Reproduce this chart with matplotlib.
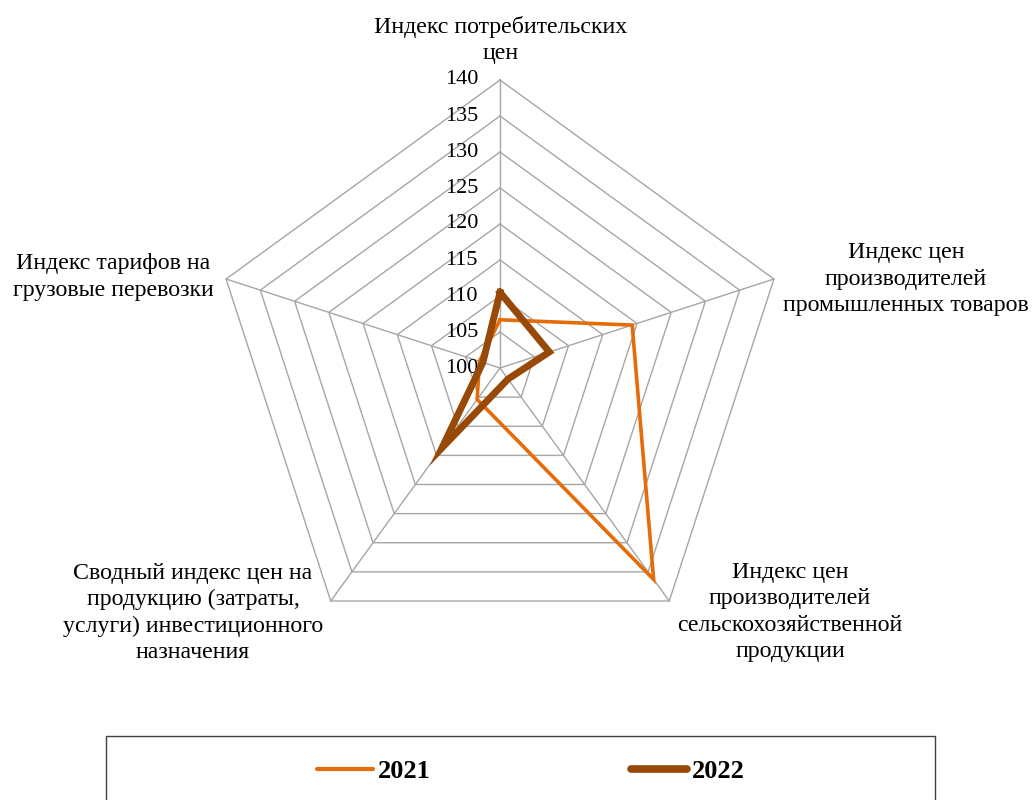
import numpy as np
import matplotlib
matplotlib.use("Agg")
import matplotlib.pyplot as plt
from matplotlib.lines import Line2D
from matplotlib.patches import Rectangle

plt.rcParams['font.family'] = ['Liberation Serif', 'DejaVu Serif']

# categories (clockwise from top)
categories = [
    "Индекс потребительских\nцен",
    "Индекс цен\nпроизводителей\nпромышленных товаров",
    "Индекс цен\nпроизводителей\nсельскохозяйственной\nпродукции",
    "Сводный индекс цен на\nпродукцию (затраты,\nуслуги) инвестиционного\nназначения",
    "Индекс тарифов на\nгрузовые перевозки",
]
values_2021 = [106.7, 119.3, 136.3, 105.4, 103.0]
values_2022 = [110.5, 107.2, 101.9, 113.7, 102.5]
ticks = [100, 105, 110, 115, 120, 125, 130, 135, 140]
r_min, r_max = 100, 140

c2021 = "#E46C0A"
c2022 = "#984807"
grid_c = "#A6A6A6"

W, H = 1036, 800
cx, cy = 500, 368          # centre of the web in pixels
ppu = 288 / (r_max - r_min)  # pixels per unit

fig = plt.figure(figsize=(W / 100, H / 100), dpi=100)
ax = fig.add_axes([0, 0, 1, 1])
ax.set_xlim(-cx / ppu, (W - cx) / ppu)
ax.set_ylim(-(H - cy) / ppu, cy / ppu)
ax.axis('off')

n = len(categories)
angles = np.deg2rad(90 - 72 * np.arange(n))


def to_xy(vals):
    r = np.asarray(vals, dtype=float) - r_min
    x = r * np.cos(angles)
    y = r * np.sin(angles)
    return np.append(x, x[0]), np.append(y, y[0])


# grid rings and spokes
for t in ticks[1:]:
    gx, gy = to_xy([t] * n)
    ax.plot(gx, gy, color=grid_c, lw=1.0, zorder=1)
for a in angles:
    ax.plot([0, (r_max - r_min) * np.cos(a)], [0, (r_max - r_min) * np.sin(a)],
            color=grid_c, lw=1.0, zorder=1)

# tick labels along the top spoke
for t in ticks:
    ax.text(-22 / ppu, t - r_min, str(t), ha='right', va='center',
            fontsize=16, color='black')

# series
x1, y1 = to_xy(values_2021)
ax.plot(x1, y1, color=c2021, lw=2.6, solid_joinstyle='miter', zorder=3)
x2, y2 = to_xy(values_2022)
ax.plot(x2, y2, color=c2022, lw=5.0, solid_joinstyle='miter', zorder=4)

# category labels (pixel positions of label centres)
label_pos = [(501, 40), (906, 279), (790, 612), (193, 613), (113, 277)]
for lab, (px, py) in zip(categories, label_pos):
    ax.text((px - cx) / ppu, (cy - py) / ppu, lab, ha='center', va='center',
            fontsize=17.2, linespacing=1.33, color='black')

# legend box
fig.patches.append(Rectangle((106 / W, -0.05), (935 - 106) / W, 0.05 + (H - 736) / H,
                             transform=fig.transFigure, fill=False,
                             edgecolor='#404040', lw=1.0))
handles = [Line2D([], [], color=c2021, lw=3.0, solid_capstyle='round'),
           Line2D([], [], color=c2022, lw=5.5, solid_capstyle='round')]
fig.legend(handles, ['2021', '2022'], loc='center',
           bbox_to_anchor=(531 / W, 1 - 771 / H), ncol=2, frameon=False,
           prop={'weight': 'bold', 'size': 19}, handlelength=2.1,
           handletextpad=0.2, columnspacing=7.6)

fig.savefig("out.png", dpi=100)
